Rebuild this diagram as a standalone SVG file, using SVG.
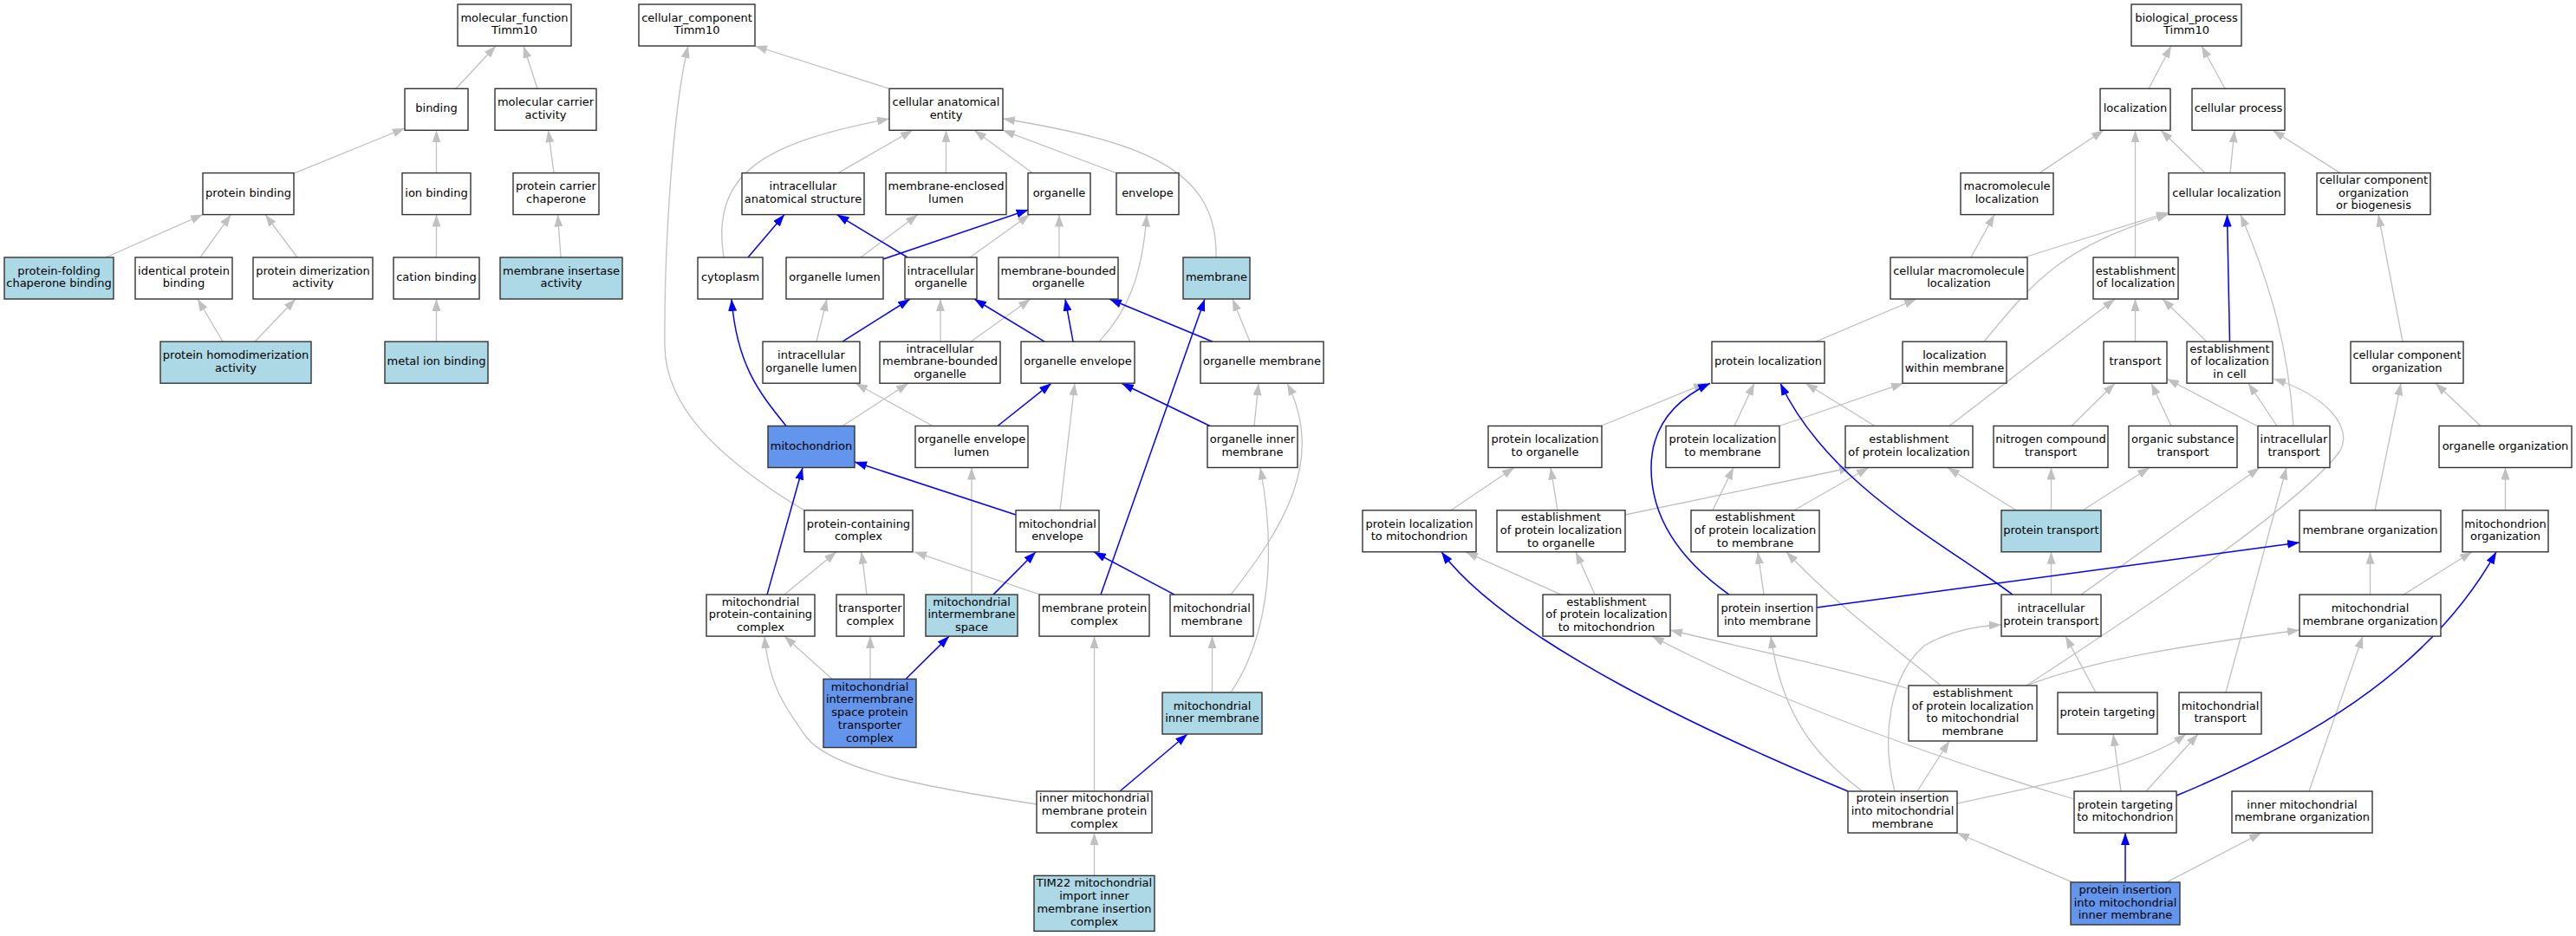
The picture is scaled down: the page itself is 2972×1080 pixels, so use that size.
<svg xmlns="http://www.w3.org/2000/svg" width="2972" height="1080" viewBox="0 0 2972 1080">
<defs>
<marker id="ag" markerUnits="userSpaceOnUse" markerWidth="14" markerHeight="10" refX="14" refY="5" orient="auto" viewBox="0 0 14 10"><path d="M0,0 L14,5 L0,10 z" fill="#c0c0c0"/></marker>
<marker id="ab" markerUnits="userSpaceOnUse" markerWidth="14" markerHeight="10" refX="14" refY="5" orient="auto" viewBox="0 0 14 10"><path d="M0,0 L14,5 L0,10 z" fill="#0000ff"/></marker>
</defs>
<style>
.e{fill:none;stroke:#c0c0c0;stroke-width:1.3;marker-end:url(#ag)}
.b{fill:none;stroke:#0000ff;stroke-width:1.5;marker-end:url(#ab)}
rect.w,rect.lb,rect.cb{stroke:#333;stroke-width:1.4}
.w{fill:#fff}.lb{fill:#add8e6}.cb{fill:#6495ed}
text{font-family:"DejaVu Sans","Liberation Sans",sans-serif;font-size:13px;text-anchor:middle;fill:#000}
</style>
<rect x="0" y="0" width="2972" height="1080" fill="#fff"/>
<g id="edges">
<path class="e" d="M526,102.3 L572,53"/>
<path class="e" d="M620,102.3 L604,53"/>
<path class="e" d="M340,199.6 L467,148"/>
<path class="e" d="M503.5,199.6 L503.5,150.3"/>
<path class="e" d="M639,199.6 L632.5,150.3"/>
<path class="e" d="M122,297 L234,247.6"/>
<path class="e" d="M231,297 L266.5,247.6"/>
<path class="e" d="M343,297 L306,247.6"/>
<path class="e" d="M503.5,297 L503.5,247.6"/>
<path class="e" d="M647,297 L643.5,247.6"/>
<path class="e" d="M257,394.2 L228,345"/>
<path class="e" d="M294,394.2 L341,345"/>
<path class="e" d="M503.5,394.2 L503.5,345"/>
<path class="e" d="M1026,102.3 L871,53"/>
<path class="e" d="M928,589 C830,530 768,470 767,400 C766,300 775,130 794,53"/>
<path class="e" d="M967,199.6 L1053,150.3"/>
<path class="e" d="M1091.5,199.6 L1091.5,150.3"/>
<path class="e" d="M1191,199.6 L1124,150.3"/>
<path class="e" d="M1288,199.6 L1157,150.3"/>
<path class="e" d="M835,297 C820,200 880,165 1026,137"/>
<path class="e" d="M1403,297 C1405,200 1330,165 1157,137"/>
<path class="e" d="M993,297 L1059,247.6"/>
<path class="e" d="M1119,297 L1188,247.6"/>
<path class="e" d="M1222,297 L1222,247.6"/>
<path class="e" d="M1268,394.2 C1300,360 1318,320 1323,247.6"/>
<path class="e" d="M1442,394.2 L1422,345"/>
<path class="e" d="M942,394.2 L954,345"/>
<path class="e" d="M1085,394.2 L1085,345"/>
<path class="e" d="M1120,394.2 L1189,345"/>
<path class="e" d="M972,491.5 L1048,442.2"/>
<path class="e" d="M1076,491.5 L987,442.2"/>
<path class="e" d="M1223,588.8 L1240,442.2"/>
<path class="e" d="M1447,491.5 L1452,442.2"/>
<path class="e" d="M1420,686.1 C1480,610 1530,530 1485,442.2"/>
<path class="e" d="M905,686.1 L965,636.8"/>
<path class="e" d="M1000,686.1 L994,636.8"/>
<path class="e" d="M1200,686.1 L1055,636.8"/>
<path class="e" d="M1121,686.1 L1121,539.5"/>
<path class="e" d="M960,783.5 L905,734.1"/>
<path class="e" d="M1004,783.5 L1004,734.1"/>
<path class="e" d="M1398.5,799 L1398.5,734.1"/>
<path class="e" d="M1420,799 C1460,740 1475,650 1454,539.5"/>
<path class="e" d="M1262.5,913 L1262.5,734.1"/>
<path class="e" d="M1196,928 C1080,910 960,890 930,850 C905,815 887,790 882,734.1"/>
<path class="e" d="M1262.5,1010.4 L1262.5,961"/>
<path class="b" d="M863,297 L905,247.6"/>
<path class="b" d="M1047,297 L965.5,247.6"/>
<path class="b" d="M1019,299 L1186.5,242"/>
<path class="b" d="M972,394.2 L1050,345"/>
<path class="b" d="M1205,394.2 L1124,345"/>
<path class="b" d="M1238,394.2 L1229,345"/>
<path class="b" d="M1399,394.2 L1280,345"/>
<path class="b" d="M1270,686.1 L1390,345"/>
<path class="b" d="M907,491.5 C875,452 850,420 844,345"/>
<path class="b" d="M1151,491.5 L1213,442.2"/>
<path class="b" d="M1396,491.5 L1294,442.2"/>
<path class="b" d="M1172,594 L986,533"/>
<path class="b" d="M885,686.1 L926,539.5"/>
<path class="b" d="M1146,686.1 L1195,636.8"/>
<path class="b" d="M1355,686.1 L1262,636.8"/>
<path class="b" d="M1045,783.5 L1095,734.1"/>
<path class="b" d="M1292,913 L1370,847"/>
<path class="e" d="M2479,102.3 L2505,53"/>
<path class="e" d="M2567,102.3 L2540,53"/>
<path class="e" d="M2353,199.6 L2427,150.3"/>
<path class="e" d="M2544,199.6 L2493,150.3"/>
<path class="e" d="M2463.5,297 L2463.5,150.3"/>
<path class="e" d="M2573,199.6 L2578,150.3"/>
<path class="e" d="M2700,199.6 L2622,150.3"/>
<path class="e" d="M2274,297 L2301,247.6"/>
<path class="e" d="M2335,297 L2502,245"/>
<path class="e" d="M2289,394.2 C2350,320 2380,285 2502,247"/>
<path class="e" d="M2646,491.5 C2640,400 2620,330 2585,247.6"/>
<path class="e" d="M2772,394.2 L2744,247.6"/>
<path class="e" d="M2463.5,394.2 L2463.5,345"/>
<path class="e" d="M2546,394.2 L2495,345"/>
<path class="e" d="M2249,491.5 L2440,345"/>
<path class="e" d="M2095,394.2 L2211,345"/>
<path class="e" d="M2390,491.5 L2440,442.2"/>
<path class="e" d="M2505,491.5 L2482,442.2"/>
<path class="e" d="M2604,491.5 L2500,437"/>
<path class="e" d="M2627,491.5 L2594,442.2"/>
<path class="e" d="M2862,491.5 L2810,442.2"/>
<path class="e" d="M2338,791 C2400,750 2650,590 2700,520 C2715,490 2680,455 2623,437"/>
<path class="e" d="M1847,491.5 L1968,442.2"/>
<path class="e" d="M2001,491.5 L2024,442.2"/>
<path class="e" d="M2053,491.5 L2196,442.2"/>
<path class="e" d="M2163,491.5 L2083,442.2"/>
<path class="e" d="M1674,588.8 L1747,539.5"/>
<path class="e" d="M1797,588.8 L1789,539.5"/>
<path class="e" d="M1875,594 L2136,539.5"/>
<path class="e" d="M1976,588.8 L2000,539.5"/>
<path class="e" d="M2070,588.8 L2156,539.5"/>
<path class="e" d="M2326,588.8 L2247,539.5"/>
<path class="e" d="M2366.5,588.8 L2366.5,539.5"/>
<path class="e" d="M2403,588.8 L2480,539.5"/>
<path class="e" d="M2740,588.8 L2770,442.2"/>
<path class="e" d="M2890.5,588.8 L2890.5,539.5"/>
<path class="e" d="M1801,686.1 L1691,636.8"/>
<path class="e" d="M1840,686.1 L1818,636.8"/>
<path class="e" d="M2035,686.1 L2028,636.8"/>
<path class="e" d="M2366.5,686.1 L2366.5,636.8"/>
<path class="e" d="M2401,686.1 L2607,539.5"/>
<path class="e" d="M2734.5,686.1 L2734.5,636.8"/>
<path class="e" d="M2773,686.1 L2852,636.8"/>
<path class="e" d="M2203,795 C2100,765 2000,745 1927,727"/>
<path class="e" d="M2239,791 C2190,750 2120,700 2061,636.8"/>
<path class="e" d="M2338,791 C2420,760 2520,745 2653,727"/>
<path class="e" d="M2418,799 L2383,734.1"/>
<path class="e" d="M2568,799 L2638,539.5"/>
<path class="e" d="M2393,922 C2250,880 2050,810 1906,734.1"/>
<path class="e" d="M2447,913 L2438,847"/>
<path class="e" d="M2476,913 L2536,847"/>
<path class="e" d="M2149,913 C2090,870 2055,820 2043,734.1"/>
<path class="e" d="M2186,913 C2170,850 2180,780 2220,745 C2250,728 2280,722 2309,721"/>
<path class="e" d="M2258,927 C2360,905 2470,885 2522,847"/>
<path class="e" d="M2212,913 L2249,855"/>
<path class="e" d="M2664,913 L2726,734.1"/>
<path class="e" d="M2392,1018.4 L2258,961"/>
<path class="e" d="M2499,1018.4 L2609,961"/>
<path class="b" d="M2572.5,394.2 L2569.5,247.6"/>
<path class="b" d="M1995,686.1 C1930,640 1905,590 1905,540 C1905,500 1925,465 1973,442.2"/>
<path class="b" d="M2322,686.1 C2240,625 2110,560 2054,442.2"/>
<path class="b" d="M2096,701 L2653,626"/>
<path class="b" d="M2132,913 C1980,850 1740,740 1663,636.8"/>
<path class="b" d="M2511,918 C2650,860 2800,780 2880,636.8"/>
<path class="b" d="M2452,1018.4 L2452,961"/>
</g>
<g id="mf_root"><rect class="w" x="528" y="5" width="131" height="48"/><text x="593.5" y="24.75"><tspan x="593.5">molecular_function</tspan><tspan x="593.5" dy="14.7">Timm10</tspan></text></g>
<g id="binding"><rect class="w" x="467" y="102.3" width="73" height="48"/><text x="503.5" y="129.4">binding</text></g>
<g id="molecular_carrier_activity"><rect class="w" x="571" y="102.3" width="117" height="48"/><text x="629.5" y="122.05"><tspan x="629.5">molecular carrier</tspan><tspan x="629.5" dy="14.7">activity</tspan></text></g>
<g id="protein_binding"><rect class="w" x="234" y="199.6" width="105" height="48"/><text x="286.5" y="226.7">protein binding</text></g>
<g id="ion_binding"><rect class="w" x="464" y="199.6" width="79" height="48"/><text x="503.5" y="226.7">ion binding</text></g>
<g id="protein_carrier_chaperone"><rect class="w" x="592" y="199.6" width="99" height="48"/><text x="641.5" y="219.35"><tspan x="641.5">protein carrier</tspan><tspan x="641.5" dy="14.7">chaperone</tspan></text></g>
<g id="protein_folding_chaperone_binding"><rect class="lb" x="5" y="297" width="126" height="48"/><text x="68" y="316.75"><tspan x="68">protein-folding</tspan><tspan x="68" dy="14.7">chaperone binding</tspan></text></g>
<g id="identical_protein_binding"><rect class="w" x="156" y="297" width="112" height="48"/><text x="212" y="316.75"><tspan x="212">identical protein</tspan><tspan x="212" dy="14.7">binding</tspan></text></g>
<g id="protein_dimerization_activity"><rect class="w" x="292" y="297" width="138" height="48"/><text x="361" y="316.75"><tspan x="361">protein dimerization</tspan><tspan x="361" dy="14.7">activity</tspan></text></g>
<g id="cation_binding"><rect class="w" x="454" y="297" width="99" height="48"/><text x="503.5" y="324.1">cation binding</text></g>
<g id="membrane_insertase_activity"><rect class="lb" x="577" y="297" width="141" height="48"/><text x="647.5" y="316.75"><tspan x="647.5">membrane insertase</tspan><tspan x="647.5" dy="14.7">activity</tspan></text></g>
<g id="protein_homodimerization_activity"><rect class="lb" x="185" y="394.2" width="174" height="48"/><text x="272" y="413.95"><tspan x="272">protein homodimerization</tspan><tspan x="272" dy="14.7">activity</tspan></text></g>
<g id="metal_ion_binding"><rect class="lb" x="444" y="394.2" width="119" height="48"/><text x="503.5" y="421.3">metal ion binding</text></g>
<g id="cc_root"><rect class="w" x="737" y="5" width="134" height="48"/><text x="804" y="24.75"><tspan x="804">cellular_component</tspan><tspan x="804" dy="14.7">Timm10</tspan></text></g>
<g id="cellular_anatomical_entity"><rect class="w" x="1026" y="102.3" width="131" height="48"/><text x="1091.5" y="122.05"><tspan x="1091.5">cellular anatomical</tspan><tspan x="1091.5" dy="14.7">entity</tspan></text></g>
<g id="intracellular_anatomical_structure"><rect class="w" x="856" y="199.6" width="141" height="48"/><text x="926.5" y="219.35"><tspan x="926.5">intracellular</tspan><tspan x="926.5" dy="14.7">anatomical structure</tspan></text></g>
<g id="membrane_enclosed_lumen"><rect class="w" x="1022" y="199.6" width="139" height="48"/><text x="1091.5" y="219.35"><tspan x="1091.5">membrane-enclosed</tspan><tspan x="1091.5" dy="14.7">lumen</tspan></text></g>
<g id="organelle"><rect class="w" x="1186" y="199.6" width="72" height="48"/><text x="1222" y="226.7">organelle</text></g>
<g id="envelope"><rect class="w" x="1288" y="199.6" width="72" height="48"/><text x="1324" y="226.7">envelope</text></g>
<g id="cytoplasm"><rect class="w" x="805" y="297" width="75" height="48"/><text x="842.5" y="324.1">cytoplasm</text></g>
<g id="organelle_lumen"><rect class="w" x="907" y="297" width="112" height="48"/><text x="963" y="324.1">organelle lumen</text></g>
<g id="intracellular_organelle"><rect class="w" x="1044" y="297" width="83" height="48"/><text x="1085.5" y="316.75"><tspan x="1085.5">intracellular</tspan><tspan x="1085.5" dy="14.7">organelle</tspan></text></g>
<g id="membrane_bounded_organelle"><rect class="w" x="1152" y="297" width="138" height="48"/><text x="1221" y="316.75"><tspan x="1221">membrane-bounded</tspan><tspan x="1221" dy="14.7">organelle</tspan></text></g>
<g id="membrane"><rect class="lb" x="1365" y="297" width="77" height="48"/><text x="1403.5" y="324.1">membrane</text></g>
<g id="intracellular_organelle_lumen"><rect class="w" x="880" y="394.2" width="112" height="48"/><text x="936" y="413.95"><tspan x="936">intracellular</tspan><tspan x="936" dy="14.7">organelle lumen</tspan></text></g>
<g id="intracellular_membrane_bounded_organelle"><rect class="w" x="1015" y="394.2" width="139" height="48"/><text x="1084.5" y="406.6"><tspan x="1084.5">intracellular</tspan><tspan x="1084.5" dy="14.7">membrane-bounded</tspan><tspan x="1084.5" dy="14.7">organelle</tspan></text></g>
<g id="organelle_envelope"><rect class="w" x="1178" y="394.2" width="131" height="48"/><text x="1243.5" y="421.3">organelle envelope</text></g>
<g id="organelle_membrane"><rect class="w" x="1385" y="394.2" width="142" height="48"/><text x="1456" y="421.3">organelle membrane</text></g>
<g id="mitochondrion"><rect class="cb" x="886" y="491.5" width="100" height="48"/><text x="936" y="518.6">mitochondrion</text></g>
<g id="organelle_envelope_lumen"><rect class="w" x="1056" y="491.5" width="130" height="48"/><text x="1121" y="511.25"><tspan x="1121">organelle envelope</tspan><tspan x="1121" dy="14.7">lumen</tspan></text></g>
<g id="organelle_inner_membrane"><rect class="w" x="1393" y="491.5" width="104" height="48"/><text x="1445" y="511.25"><tspan x="1445">organelle inner</tspan><tspan x="1445" dy="14.7">membrane</tspan></text></g>
<g id="protein_containing_complex"><rect class="w" x="928" y="588.8" width="125" height="48"/><text x="990.5" y="608.55"><tspan x="990.5">protein-containing</tspan><tspan x="990.5" dy="14.7">complex</tspan></text></g>
<g id="mitochondrial_envelope"><rect class="w" x="1172" y="588.8" width="96" height="48"/><text x="1220" y="608.55"><tspan x="1220">mitochondrial</tspan><tspan x="1220" dy="14.7">envelope</tspan></text></g>
<g id="mitochondrial_protein_containing_complex"><rect class="w" x="815" y="686.1" width="125" height="48"/><text x="877.5" y="698.5"><tspan x="877.5">mitochondrial</tspan><tspan x="877.5" dy="14.7">protein-containing</tspan><tspan x="877.5" dy="14.7">complex</tspan></text></g>
<g id="transporter_complex"><rect class="w" x="965" y="686.1" width="78" height="48"/><text x="1004" y="705.85"><tspan x="1004">transporter</tspan><tspan x="1004" dy="14.7">complex</tspan></text></g>
<g id="mitochondrial_intermembrane_space"><rect class="lb" x="1068" y="686.1" width="106" height="48"/><text x="1121" y="698.5"><tspan x="1121">mitochondrial</tspan><tspan x="1121" dy="14.7">intermembrane</tspan><tspan x="1121" dy="14.7">space</tspan></text></g>
<g id="membrane_protein_complex"><rect class="w" x="1199" y="686.1" width="127" height="48"/><text x="1262.5" y="705.85"><tspan x="1262.5">membrane protein</tspan><tspan x="1262.5" dy="14.7">complex</tspan></text></g>
<g id="mitochondrial_membrane"><rect class="w" x="1350" y="686.1" width="96" height="48"/><text x="1398" y="705.85"><tspan x="1398">mitochondrial</tspan><tspan x="1398" dy="14.7">membrane</tspan></text></g>
<g id="mitochondrial_ims_protein_transporter_complex"><rect class="cb" x="950" y="783.5" width="107" height="79"/><text x="1003.5" y="796.7"><tspan x="1003.5">mitochondrial</tspan><tspan x="1003.5" dy="14.7">intermembrane</tspan><tspan x="1003.5" dy="14.7">space protein</tspan><tspan x="1003.5" dy="14.7">transporter</tspan><tspan x="1003.5" dy="14.7">complex</tspan></text></g>
<g id="mitochondrial_inner_membrane"><rect class="lb" x="1341" y="799" width="115" height="48"/><text x="1398.5" y="818.75"><tspan x="1398.5">mitochondrial</tspan><tspan x="1398.5" dy="14.7">inner membrane</tspan></text></g>
<g id="inner_mitochondrial_membrane_protein_complex"><rect class="w" x="1196" y="913" width="133" height="48"/><text x="1262.5" y="925.4"><tspan x="1262.5">inner mitochondrial</tspan><tspan x="1262.5" dy="14.7">membrane protein</tspan><tspan x="1262.5" dy="14.7">complex</tspan></text></g>
<g id="tim22_complex"><rect class="lb" x="1193" y="1010.4" width="139" height="64"/><text x="1262.5" y="1023.45"><tspan x="1262.5">TIM22 mitochondrial</tspan><tspan x="1262.5" dy="14.7">import inner</tspan><tspan x="1262.5" dy="14.7">membrane insertion</tspan><tspan x="1262.5" dy="14.7">complex</tspan></text></g>
<g id="bp_root"><rect class="w" x="2459" y="5" width="127" height="48"/><text x="2522.5" y="24.75"><tspan x="2522.5">biological_process</tspan><tspan x="2522.5" dy="14.7">Timm10</tspan></text></g>
<g id="localization"><rect class="w" x="2423" y="102.3" width="81" height="48"/><text x="2463.5" y="129.4">localization</text></g>
<g id="cellular_process"><rect class="w" x="2529" y="102.3" width="107" height="48"/><text x="2582.5" y="129.4">cellular process</text></g>
<g id="macromolecule_localization"><rect class="w" x="2262" y="199.6" width="107" height="48"/><text x="2315.5" y="219.35"><tspan x="2315.5">macromolecule</tspan><tspan x="2315.5" dy="14.7">localization</tspan></text></g>
<g id="cellular_localization"><rect class="w" x="2502" y="199.6" width="134" height="48"/><text x="2569" y="226.7">cellular localization</text></g>
<g id="cc_organization_or_biogenesis"><rect class="w" x="2673" y="199.6" width="131" height="48"/><text x="2738.5" y="212"><tspan x="2738.5">cellular component</tspan><tspan x="2738.5" dy="14.7">organization</tspan><tspan x="2738.5" dy="14.7">or biogenesis</tspan></text></g>
<g id="cellular_macromolecule_localization"><rect class="w" x="2181" y="297" width="158" height="48"/><text x="2260" y="316.75"><tspan x="2260">cellular macromolecule</tspan><tspan x="2260" dy="14.7">localization</tspan></text></g>
<g id="establishment_of_localization"><rect class="w" x="2415" y="297" width="98" height="48"/><text x="2464" y="316.75"><tspan x="2464">establishment</tspan><tspan x="2464" dy="14.7">of localization</tspan></text></g>
<g id="protein_localization"><rect class="w" x="1975" y="394.2" width="130" height="48"/><text x="2040" y="421.3">protein localization</text></g>
<g id="localization_within_membrane"><rect class="w" x="2195" y="394.2" width="120" height="48"/><text x="2255" y="413.95"><tspan x="2255">localization</tspan><tspan x="2255" dy="14.7">within membrane</tspan></text></g>
<g id="transport"><rect class="w" x="2427" y="394.2" width="73" height="48"/><text x="2463.5" y="421.3">transport</text></g>
<g id="establishment_of_localization_in_cell"><rect class="w" x="2523" y="394.2" width="99" height="48"/><text x="2572.5" y="406.6"><tspan x="2572.5">establishment</tspan><tspan x="2572.5" dy="14.7">of localization</tspan><tspan x="2572.5" dy="14.7">in cell</tspan></text></g>
<g id="cellular_component_organization"><rect class="w" x="2712" y="394.2" width="130" height="48"/><text x="2777" y="413.95"><tspan x="2777">cellular component</tspan><tspan x="2777" dy="14.7">organization</tspan></text></g>
<g id="protein_localization_to_organelle"><rect class="w" x="1717" y="491.5" width="131" height="48"/><text x="1782.5" y="511.25"><tspan x="1782.5">protein localization</tspan><tspan x="1782.5" dy="14.7">to organelle</tspan></text></g>
<g id="protein_localization_to_membrane"><rect class="w" x="1922" y="491.5" width="131" height="48"/><text x="1987.5" y="511.25"><tspan x="1987.5">protein localization</tspan><tspan x="1987.5" dy="14.7">to membrane</tspan></text></g>
<g id="establishment_of_protein_localization"><rect class="w" x="2129" y="491.5" width="147" height="48"/><text x="2202.5" y="511.25"><tspan x="2202.5">establishment</tspan><tspan x="2202.5" dy="14.7">of protein localization</tspan></text></g>
<g id="nitrogen_compound_transport"><rect class="w" x="2300" y="491.5" width="132" height="48"/><text x="2366" y="511.25"><tspan x="2366">nitrogen compound</tspan><tspan x="2366" dy="14.7">transport</tspan></text></g>
<g id="organic_substance_transport"><rect class="w" x="2456" y="491.5" width="125" height="48"/><text x="2518.5" y="511.25"><tspan x="2518.5">organic substance</tspan><tspan x="2518.5" dy="14.7">transport</tspan></text></g>
<g id="intracellular_transport"><rect class="w" x="2605" y="491.5" width="83" height="48"/><text x="2646.5" y="511.25"><tspan x="2646.5">intracellular</tspan><tspan x="2646.5" dy="14.7">transport</tspan></text></g>
<g id="organelle_organization"><rect class="w" x="2814" y="491.5" width="153" height="48"/><text x="2890.5" y="518.6">organelle organization</text></g>
<g id="protein_localization_to_mitochondrion"><rect class="w" x="1572" y="588.8" width="131" height="48"/><text x="1637.5" y="608.55"><tspan x="1637.5">protein localization</tspan><tspan x="1637.5" dy="14.7">to mitochondrion</tspan></text></g>
<g id="est_protein_localization_to_organelle"><rect class="w" x="1727" y="588.8" width="148" height="48"/><text x="1801" y="601.2"><tspan x="1801">establishment</tspan><tspan x="1801" dy="14.7">of protein localization</tspan><tspan x="1801" dy="14.7">to organelle</tspan></text></g>
<g id="est_protein_localization_to_membrane"><rect class="w" x="1951" y="588.8" width="148" height="48"/><text x="2025" y="601.2"><tspan x="2025">establishment</tspan><tspan x="2025" dy="14.7">of protein localization</tspan><tspan x="2025" dy="14.7">to membrane</tspan></text></g>
<g id="protein_transport"><rect class="lb" x="2309" y="588.8" width="115" height="48"/><text x="2366.5" y="615.9">protein transport</text></g>
<g id="membrane_organization"><rect class="w" x="2653" y="588.8" width="163" height="48"/><text x="2734.5" y="615.9">membrane organization</text></g>
<g id="mitochondrion_organization"><rect class="w" x="2841" y="588.8" width="99" height="48"/><text x="2890.5" y="608.55"><tspan x="2890.5">mitochondrion</tspan><tspan x="2890.5" dy="14.7">organization</tspan></text></g>
<g id="est_protein_localization_to_mitochondrion"><rect class="w" x="1780" y="686.1" width="147" height="48"/><text x="1853.5" y="698.5"><tspan x="1853.5">establishment</tspan><tspan x="1853.5" dy="14.7">of protein localization</tspan><tspan x="1853.5" dy="14.7">to mitochondrion</tspan></text></g>
<g id="protein_insertion_into_membrane"><rect class="w" x="1982" y="686.1" width="114" height="48"/><text x="2039" y="705.85"><tspan x="2039">protein insertion</tspan><tspan x="2039" dy="14.7">into membrane</tspan></text></g>
<g id="intracellular_protein_transport"><rect class="w" x="2309" y="686.1" width="115" height="48"/><text x="2366.5" y="705.85"><tspan x="2366.5">intracellular</tspan><tspan x="2366.5" dy="14.7">protein transport</tspan></text></g>
<g id="mitochondrial_membrane_organization"><rect class="w" x="2653" y="686.1" width="163" height="48"/><text x="2734.5" y="705.85"><tspan x="2734.5">mitochondrial</tspan><tspan x="2734.5" dy="14.7">membrane organization</tspan></text></g>
<g id="est_protein_localization_to_mitochondrial_membrane"><rect class="w" x="2202" y="791" width="148" height="64"/><text x="2276" y="804.05"><tspan x="2276">establishment</tspan><tspan x="2276" dy="14.7">of protein localization</tspan><tspan x="2276" dy="14.7">to mitochondrial</tspan><tspan x="2276" dy="14.7">membrane</tspan></text></g>
<g id="protein_targeting"><rect class="w" x="2374" y="799" width="115" height="48"/><text x="2431.5" y="826.1">protein targeting</text></g>
<g id="mitochondrial_transport"><rect class="w" x="2514" y="799" width="95" height="48"/><text x="2561.5" y="818.75"><tspan x="2561.5">mitochondrial</tspan><tspan x="2561.5" dy="14.7">transport</tspan></text></g>
<g id="protein_insertion_into_mitochondrial_membrane"><rect class="w" x="2132" y="913" width="126" height="48"/><text x="2195" y="925.4"><tspan x="2195">protein insertion</tspan><tspan x="2195" dy="14.7">into mitochondrial</tspan><tspan x="2195" dy="14.7">membrane</tspan></text></g>
<g id="protein_targeting_to_mitochondrion"><rect class="w" x="2393" y="913" width="118" height="48"/><text x="2452" y="932.75"><tspan x="2452">protein targeting</tspan><tspan x="2452" dy="14.7">to mitochondrion</tspan></text></g>
<g id="inner_mitochondrial_membrane_organization"><rect class="w" x="2575" y="913" width="162" height="48"/><text x="2656" y="932.75"><tspan x="2656">inner mitochondrial</tspan><tspan x="2656" dy="14.7">membrane organization</tspan></text></g>
<g id="protein_insertion_into_mitochondrial_inner_membrane"><rect class="cb" x="2389" y="1018" width="126" height="49"/><text x="2452" y="1030.8"><tspan x="2452">protein insertion</tspan><tspan x="2452" dy="14.7">into mitochondrial</tspan><tspan x="2452" dy="14.7">inner membrane</tspan></text></g>
</svg>
